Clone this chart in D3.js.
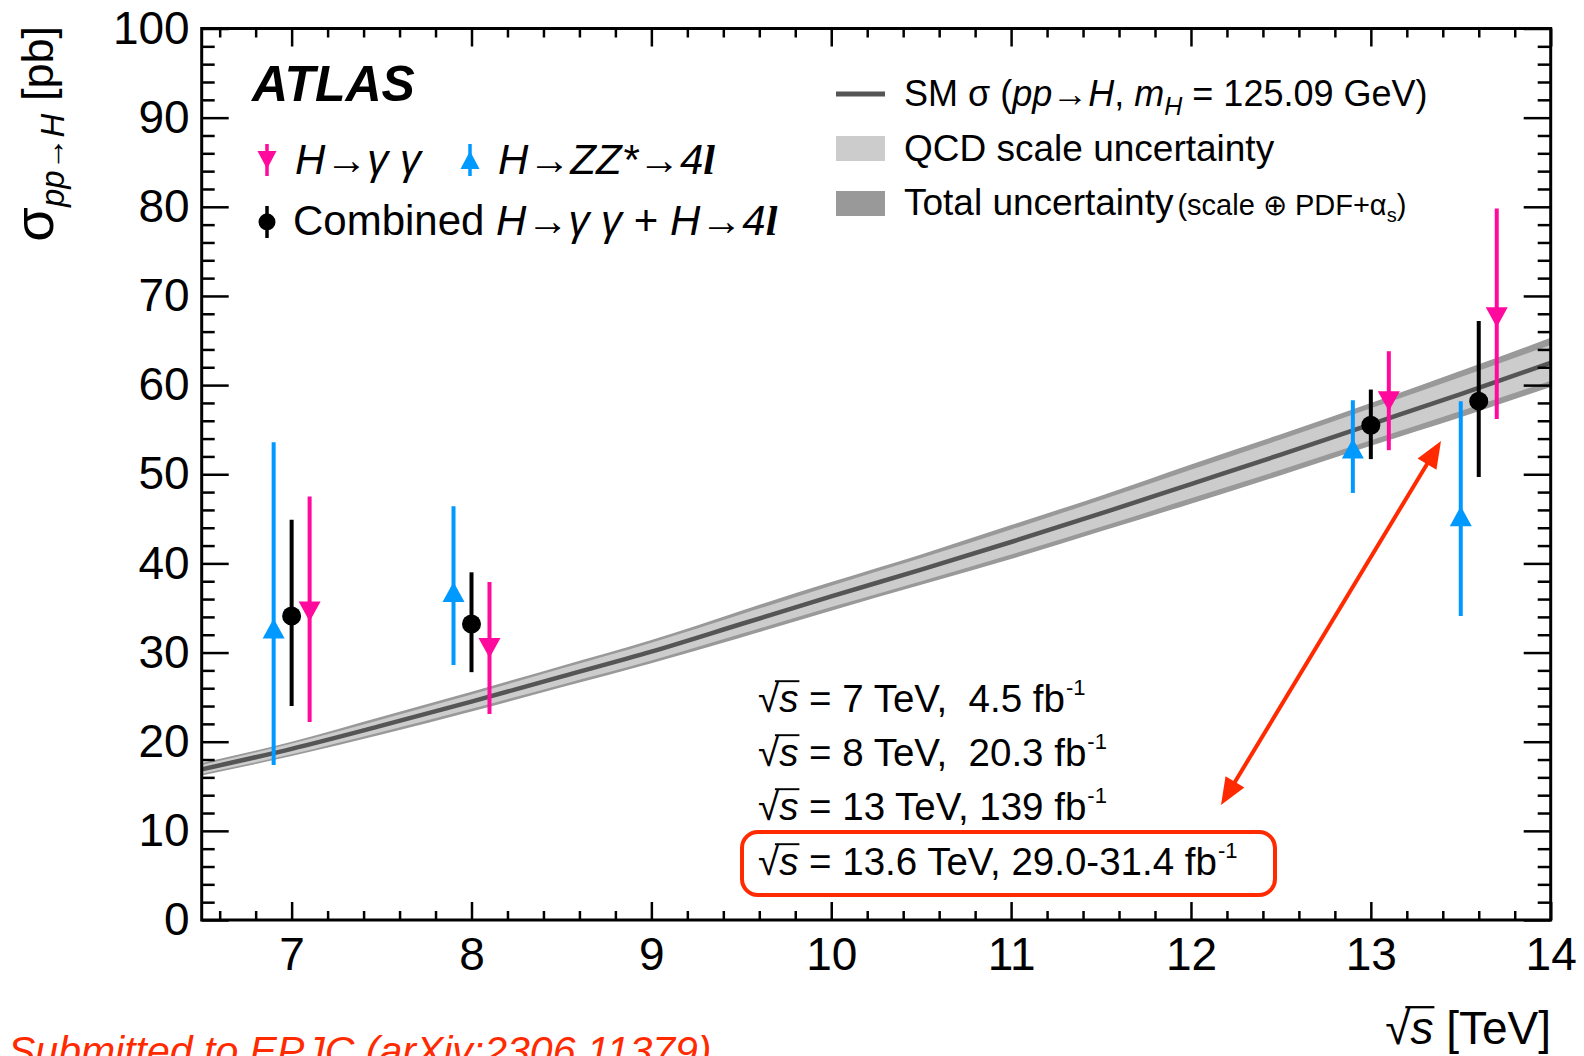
<!DOCTYPE html>
<html>
<head>
<meta charset="utf-8">
<script src="https://cdn.jsdelivr.net/npm/d3@7"></script>
<style>
body { margin: 0; background: #fff; }
text { font-family: "Liberation Sans", Arial, sans-serif; }
</style>
</head>
<body>
<svg id="chart" width="1584" height="1056"></svg>
<script>
// SM prediction, sigma(pp->H) in pb vs sqrt(s) in TeV
var smE     = [6.5, 7, 7.5, 8, 8.5, 9, 9.5, 10, 10.5, 11, 11.5, 12, 12.5, 13, 13.5, 14]
var smXs    = [16.9, 19.2, 21.8, 24.5, 27.3, 30.1, 33.2, 36.3, 39.3, 42.4, 45.6, 48.9, 52.2, 55.6, 59.0, 62.5]
var scaleLo = [16.4, 18.6, 21.1, 23.7, 26.4, 29.1, 32.1, 35.1, 38.0, 41.0, 44.1, 47.3, 50.5, 53.8, 57.1, 60.5]
var scaleHi = [17.4, 19.8, 22.5, 25.3, 28.2, 31.1, 34.3, 37.5, 40.6, 43.8, 47.1, 50.5, 53.9, 57.4, 60.9, 64.5]
var totLo   = [16.2, 18.4, 20.8, 23.4, 26.1, 28.8, 31.7, 34.7, 37.6, 40.5, 43.6, 46.7, 49.9, 53.2, 56.4, 59.8]
var totHi   = [17.6, 20.0, 22.8, 25.6, 28.5, 31.4, 34.7, 37.9, 41.0, 44.3, 47.6, 51.1, 54.5, 58.0, 61.6, 65.3]

// measurements (points drawn slightly shifted in sqrt(s))
var ggX  = [7.1, 8.1, 13.1, 13.7]
var ggY  = [34.6, 30.5, 58.2, 67.6]
var ggLo = [22.2, 23.1, 52.7, 56.2]
var ggHi = [47.5, 37.9, 63.8, 79.8]

var zzX  = [6.9, 7.9, 12.9, 13.5]
var zzY  = [32.7, 36.8, 52.9, 45.3]
var zzLo = [17.4, 28.6, 47.9, 34.1]
var zzHi = [53.6, 46.4, 58.3, 58.2]

var combX  = [7, 8, 13, 13.6]
var combY  = [34.1, 33.2, 55.5, 58.2]
var combLo = [24.0, 27.8, 51.7, 49.7]
var combHi = [44.9, 39.0, 59.5, 67.2]

var xTicks = [7, 8, 9, 10, 11, 12, 13, 14]
var yTicks = [0, 10, 20, 30, 40, 50, 60, 70, 80, 90, 100]

var lumiE    = ["7", "8", "13", "13.6"]
var lumiText = [",  4.5 fb", ",  20.3 fb", ", 139 fb", ", 29.0-31.4 fb"]

var pink = "#ff0a9c", blue = "#0099ff", red = "#ff2a00"

var svg = d3.select("#chart")
var L = 201.7, R = 1550.7, T = 28.5, B = 920

var x = d3.scaleLinear().domain([6.5, 14]).range([L, R])
var y = d3.scaleLinear().domain([0, 100]).range([B, T])

svg.append("defs").append("clipPath").attr("id", "clip")
  .append("rect").attr("x", L).attr("y", T).attr("width", R - L).attr("height", B - T)

var plot = svg.append("g").attr("clip-path", "url(#clip)")
var idx = d3.range(smE.length)

// bands
var band = function(lo, hi) {
  return d3.area().curve(d3.curveMonotoneX)
    .x(function(i) { return x(smE[i]) })
    .y0(function(i) { return y(lo[i]) })
    .y1(function(i) { return y(hi[i]) })
}
plot.append("path").attr("d", band(totLo, totHi)(idx)).attr("fill", "#999")
plot.append("path").attr("d", band(scaleLo, scaleHi)(idx)).attr("fill", "#ccc")
plot.append("path")
  .attr("d", d3.line().curve(d3.curveMonotoneX)
    .x(function(i) { return x(smE[i]) })
    .y(function(i) { return y(smXs[i]) })(idx))
  .attr("fill", "none").attr("stroke", "#555").attr("stroke-width", 4.5)

// markers
function triUp(cx, cy, w, h) {
  return "M" + (cx - w / 2) + "," + (cy + h / 2) + "L" + (cx + w / 2) + "," + (cy + h / 2) + "L" + cx + "," + (cy - h / 2) + "Z"
}
function triDown(cx, cy, w, h) {
  return "M" + (cx - w / 2) + "," + (cy - h / 2) + "L" + (cx + w / 2) + "," + (cy - h / 2) + "L" + cx + "," + (cy + h / 2) + "Z"
}

function drawSeries(xs, ys, lo, hi, color, kind) {
  var g = svg.append("g")
  g.selectAll("line").data(xs).enter().append("line")
    .attr("x1", function(d) { return x(d) }).attr("x2", function(d) { return x(d) })
    .attr("y1", function(d, i) { return y(lo[i]) }).attr("y2", function(d, i) { return y(hi[i]) })
    .attr("stroke", color).attr("stroke-width", 4)
  if (kind == "circle") {
    g.selectAll("circle").data(xs).enter().append("circle")
      .attr("cx", function(d) { return x(d) }).attr("cy", function(d, i) { return y(ys[i]) })
      .attr("r", 9.5).attr("fill", color)
  } else {
    g.selectAll("path").data(xs).enter().append("path")
      .attr("d", function(d, i) {
        return kind == "up" ? triUp(x(d), y(ys[i]), 22, 20) : triDown(x(d), y(ys[i]), 22, 20)
      })
      .attr("fill", color)
  }
}
drawSeries(zzX, zzY, zzLo, zzHi, blue, "up")
drawSeries(combX, combY, combLo, combHi, "#000", "circle")
drawSeries(ggX, ggY, ggLo, ggHi, pink, "down")

// axes
function styleAxis(g) {
  g.select(".domain").remove()
  g.selectAll(".tick line").attr("stroke", "#000").attr("stroke-width", 2.5)
  g.selectAll("text").attr("font-family", "Liberation Sans, Arial, sans-serif").attr("fill", "#000")
}
var xMinor = d3.range(6.6, 14.0, 0.2).filter(function(v) { return Math.abs(v - Math.round(v)) > 0.01 })
var yMinor = d3.range(2, 100, 2).filter(function(v) { return v % 10 != 0 })

svg.append("g").attr("transform", "translate(0," + B + ")")
  .call(d3.axisBottom(x).tickValues(xTicks).tickSize(-18).tickPadding(17).tickFormat(d3.format("d")))
  .attr("font-size", 46).call(styleAxis)
svg.append("g").attr("transform", "translate(0," + B + ")")
  .call(d3.axisBottom(x).tickValues(xMinor).tickSize(-9).tickFormat("")).call(styleAxis)
svg.append("g").attr("transform", "translate(0," + T + ")")
  .call(d3.axisTop(x).tickValues(xTicks).tickSize(-18).tickFormat("")).call(styleAxis)
svg.append("g").attr("transform", "translate(0," + T + ")")
  .call(d3.axisTop(x).tickValues(xMinor).tickSize(-9).tickFormat("")).call(styleAxis)

svg.append("g").attr("transform", "translate(" + L + ",0)")
  .call(d3.axisLeft(y).tickValues(yTicks).tickSize(-27).tickPadding(12).tickFormat(d3.format("d")))
  .attr("font-size", 46).call(styleAxis)
svg.append("g").attr("transform", "translate(" + L + ",0)")
  .call(d3.axisLeft(y).tickValues(yMinor).tickSize(-13).tickFormat("")).call(styleAxis)
svg.append("g").attr("transform", "translate(" + R + ",0)")
  .call(d3.axisRight(y).tickValues(yTicks).tickSize(-27).tickFormat("")).call(styleAxis)
svg.append("g").attr("transform", "translate(" + R + ",0)")
  .call(d3.axisRight(y).tickValues(yMinor).tickSize(-13).tickFormat("")).call(styleAxis)

svg.append("rect").attr("x", L).attr("y", T).attr("width", R - L).attr("height", B - T)
  .attr("fill", "none").attr("stroke", "#000").attr("stroke-width", 3)

// rich text helper
function rich(parent, px, py, size, parts) {
  var t = parent.append("text").attr("x", px).attr("y", py).attr("font-size", size)
    .attr("xml:space", "preserve").style("white-space", "pre")
  parts.forEach(function(p) {
    var s = t.append("tspan").text(p.t)
    if (p.i) s.attr("font-style", "italic")
    if (p.b) s.attr("font-weight", "bold")
    if (p.fs) s.attr("font-size", p.fs)
    if (p.dy) s.attr("dy", p.dy)
    if (p.dx) s.attr("dx", p.dx)
    if (p.ff) s.attr("font-family", p.ff)
    if (p.fill) s.attr("fill", p.fill)
  })
  return t
}
// bar over the radicand: char index of "s"
function sqrtBar(t, ci, baseY, size) {
  var n = t.node()
  var e0 = n.getExtentOfChar(ci - 1), e1 = n.getExtentOfChar(ci)
  t.select(function() { return this.parentNode }).append("line")
    .attr("x1", e0.x + e0.width * 0.8).attr("x2", e1.x + e1.width + 1)
    .attr("y1", baseY - size * 0.8).attr("y2", baseY - size * 0.8)
    .attr("stroke", "#000").attr("stroke-width", size * 0.05)
}

// axis titles
var yt = svg.append("g").attr("transform", "translate(53,26) rotate(-90)")
rich(yt, 0, 0, 45, [
  {t: "σ", fs: 56},
  {t: "pp→H", i: true, fs: 33, dy: 11},
  {t: " [pb]", dy: -11}
]).attr("text-anchor", "end")

var xtg = svg.append("g")
var xt = rich(xtg, 1551, 1044, 46, [{t: "√"}, {t: "s", i: true}, {t: " [TeV]"}]).attr("text-anchor", "end")
sqrtBar(xt, 1, 1044, 46)

// left legend
rich(svg, 252, 101, 50, [{t: "ATLAS", b: true, i: true}])

function legMarker(cx, cy, color, kind) {
  svg.append("line").attr("x1", cx).attr("x2", cx).attr("y1", cy - 16).attr("y2", cy + 16)
    .attr("stroke", color).attr("stroke-width", 3.5)
  if (kind == "circle") svg.append("circle").attr("cx", cx).attr("cy", cy).attr("r", 8.5).attr("fill", color)
  else svg.append("path").attr("d", kind == "up" ? triUp(cx, cy, 19, 18) : triDown(cx, cy, 19, 18)).attr("fill", color)
}
legMarker(267, 160, pink, "down")
rich(svg, 295, 174, 42, [{t: "H", i: true}, {t: "→"}, {t: "γ γ", i: true}])
legMarker(470, 160, blue, "up")
rich(svg, 498, 174, 42, [{t: "H", i: true}, {t: "→"}, {t: "ZZ*", i: true}, {t: "→"}, {t: "4", i: true},
  {t: "l", i: true, b: true, ff: "Liberation Serif, serif"}])
legMarker(267, 222, "#000", "circle")
rich(svg, 293, 235, 42, [{t: "Combined "}, {t: "H", i: true}, {t: "→"}, {t: "γ γ", i: true}, {t: " + "},
  {t: "H", i: true}, {t: "→"}, {t: "4", i: true}, {t: "l", i: true, b: true, ff: "Liberation Serif, serif"}])

// right legend
svg.append("line").attr("x1", 836).attr("x2", 885).attr("y1", 94).attr("y2", 94)
  .attr("stroke", "#555").attr("stroke-width", 5)
rich(svg, 904, 106, 36, [{t: "SM σ ("}, {t: "pp", i: true}, {t: "→"}, {t: "H", i: true}, {t: ", "},
  {t: "m", i: true}, {t: "H", i: true, fs: 25, dy: 9}, {t: " = 125.09 GeV)", dy: -9}])
svg.append("rect").attr("x", 836).attr("y", 136).attr("width", 49).attr("height", 25).attr("fill", "#ccc")
rich(svg, 904, 161, 37, [{t: "QCD scale uncertainty"}])
svg.append("rect").attr("x", 836).attr("y", 191).attr("width", 49).attr("height", 25).attr("fill", "#999")
rich(svg, 904, 215, 37, [{t: "Total uncertainty"}, {t: "(scale ⊕ PDF+α", fs: 29, dx: 4},
  {t: "s", fs: 20, dy: 7}, {t: ")", fs: 29, dy: -7}])

// luminosity annotation
var ann = svg.append("g")
var baseYs = [712, 766, 820, 875]
lumiE.forEach(function(e, i) {
  var t = rich(ann, 758, baseYs[i], 38.5, [{t: "√"}, {t: "s", i: true}, {t: " = " + e + " TeV" + lumiText[i]},
    {t: "-1", fs: 22, dy: -17, dx: 1}])
  sqrtBar(t, 1, baseYs[i], 38.5)
})
svg.append("rect").attr("x", 742).attr("y", 832).attr("width", 533).attr("height", 63).attr("rx", 16)
  .attr("fill", "none").attr("stroke", red).attr("stroke-width", 4)

// double-headed arrow
var a0 = [1221, 805], a1 = [1441, 441]
var ang = Math.atan2(a1[1] - a0[1], a1[0] - a0[0])
var hl = 27, hw = 11
function head(tip, dir) {
  var bx = tip[0] - dir * hl * Math.cos(ang), by = tip[1] - dir * hl * Math.sin(ang)
  var px = -Math.sin(ang) * hw, py = Math.cos(ang) * hw
  return "M" + tip[0] + "," + tip[1] + "L" + (bx + px) + "," + (by + py) + "L" + (bx - px) + "," + (by - py) + "Z"
}
svg.append("line")
  .attr("x1", a0[0] + hl * 0.8 * Math.cos(ang)).attr("y1", a0[1] + hl * 0.8 * Math.sin(ang))
  .attr("x2", a1[0] - hl * 0.8 * Math.cos(ang)).attr("y2", a1[1] - hl * 0.8 * Math.sin(ang))
  .attr("stroke", red).attr("stroke-width", 4)
svg.append("path").attr("d", head(a1, 1)).attr("fill", red)
svg.append("path").attr("d", head(a0, -1)).attr("fill", red)

// footer (runs off the bottom edge, as in the original)
rich(svg, 8, 1065, 41, [{t: "Submitted to EPJC (arXiv:2306.11379)", i: true, fill: red}])
</script>
</body>
</html>
